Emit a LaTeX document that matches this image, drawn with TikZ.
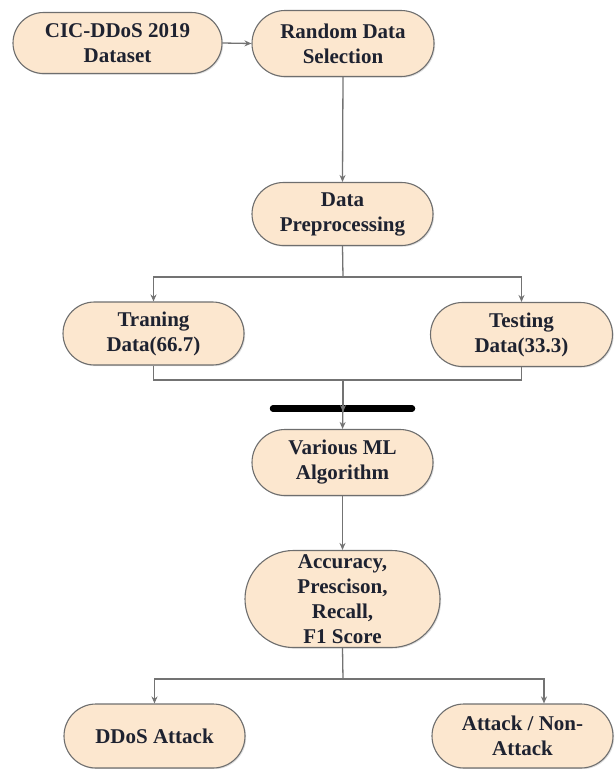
\documentclass[tikz,border=0pt]{standalone}
\usepackage{fontspec}
\setmainfont{Liberation Serif}
\usetikzlibrary{shapes.misc,arrows.meta,shadows}
\definecolor{boxfill}{RGB}{252,231,207}
\definecolor{boxline}{RGB}{110,110,110}
\definecolor{linegray}{RGB}{115,115,115}
\definecolor{txt}{RGB}{30,34,48}
\tikzset{
  proc/.style={rounded rectangle, draw=boxline, line width=1.1pt, fill=boxfill,
    inner sep=0pt, align=center, text=txt,
    font=\fontsize{21}{25}\selectfont\bfseries,
    drop shadow={opacity=0.25, shadow xshift=1.2pt, shadow yshift=-1.2pt}},
  conn/.style={draw=linegray, line width=1.3pt},
  arr/.style={conn, -{Stealth[length=7pt,width=6pt]}},
  barstyle/.style={line width=6.5pt, line cap=round, draw=black}
}
\begin{document}
\begin{tikzpicture}[x=1pt,y=-1pt]
\useasboundingbox (0,0) rectangle (614,769);
\node[proc, minimum width=209pt, minimum height=61pt] (cic) at (117.5,43) {CIC-DDoS 2019\\Dataset};
\node[proc, minimum width=182pt, minimum height=66pt] (rand) at (343,43.5) {Random Data\\Selection};
\node[proc, minimum width=181pt, minimum height=63pt] (prep) at (342.5,214) {Data\\Preprocessing};
\node[proc, minimum width=181pt, minimum height=63pt] (train) at (153.5,333.5) {Traning\\Data(66.7)};
\node[proc, minimum width=182pt, minimum height=64pt] (test) at (521.5,334.5) {Testing\\Data(33.3)};
\node[proc, minimum width=181pt, minimum height=66pt] (ml) at (342.5,462.5) {Various ML\\Algorithm};
\node[proc, minimum width=195pt, minimum height=97pt] (acc) at (342.5,599) {Accuracy,\\Prescison,\\Recall,\\F1 Score};
\node[proc, minimum width=181pt, minimum height=64pt] (ddos) at (154.5,736) {DDoS Attack};
\node[proc, minimum width=181pt, minimum height=64pt] (atk) at (522.5,736) {Attack / Non-\\Attack};

\coordinate (barL) at (273,408.5);
\coordinate (barR) at (412,408.5);
\draw[barstyle] (barL) -- (barR);
\coordinate (barC) at (343,408.5);

\draw[arr] (cic.east) -- (rand.west);
\draw[arr] (rand.south) -- (prep.north);
\coordinate (split1) at (343,277);
\draw[conn] (prep.south) -- (split1);
\draw[arr] (split1) -| (train.north);
\draw[arr] (split1) -| (test.north);
\coordinate (join1) at (343,380);
\draw[conn] (train.south) |- (join1);
\draw[conn] (test.south) |- (join1);
\draw[arr] (join1) -- ([yshift=-3.5pt]barC);
\draw[arr] ([yshift=3.5pt]barC) -- (ml.north);
\draw[arr] (ml.south) -- (acc.north);
\coordinate (split2) at (343,679);
\draw[conn] (acc.south) -- (split2);
\draw[arr] (split2) -| (ddos.north);
\draw[arr] (split2) -| ([xshift=21.5pt]atk.north);
\end{tikzpicture}
\end{document}
